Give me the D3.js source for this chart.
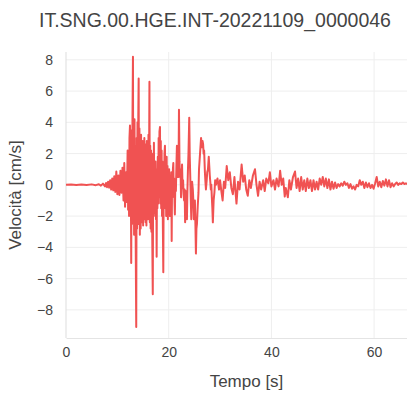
<!DOCTYPE html>
<html>
<head>
<meta charset="utf-8">
<script src="https://cdn.jsdelivr.net/npm/d3@7"></script>
<style>
  body { margin: 0; background: #fff; overflow: hidden; }
  text { font-family: "Liberation Sans", Arial, sans-serif; fill: #444; }
</style>
</head>
<body>
<div id="chart"></div>
<script>
// titolo e assi
var chartTitle = "IT.SNG.00.HGE.INT-20221109_0000046";
var xLabel = "Tempo [s]";
var yLabel = "Velocità [cm/s]";
var xTicks = [0, 20, 40, 60];
var yTicks = [-8, -6, -4, -2, 0, 2, 4, 6, 8];

// traccia letta a occhio, [tempo s, velocita cm/s]
var preEvent = [[0,0],[1,0.02],[2,-0.01],[3,0.02],[4,-0.01],[5,0.03],[5.8,-0.02],[6.4,0.04],[6.8,-0.05],[7.2,0.08],[7.6,-0.1]];

var onset = [[7.8,0.12],[8.0,-0.15],[8.2,0.2],[8.4,-0.18],[8.6,0.3],[8.8,-0.3],[9.0,0.4],[9.2,-0.35],[9.4,0.55],[9.6,-0.45],
  [9.8,0.85],[10.0,-0.6],[10.2,0.6],[10.4,-0.65],[10.6,0.9],[10.8,-0.5],[11.0,1.1],[11.2,-1.0],[11.35,1.4],[11.5,-1.4],
  [11.7,0.8],[11.85,-1.1],[12.0,2.2],[12.1,-1.6]];

var strongMotion = [[12.2,1.5],[12.28,-2.0],[12.36,3.0],[12.46,3.8],[12.52,-1.5],[12.6,2.5],[12.7,-5.0],[12.78,3.5],[12.86,-2.5],
  [12.94,4.0],[13.04,8.2],[13.1,-2.0],[13.18,3.8],[13.26,-3.2],[13.34,4.2],[13.42,-3.0],[13.5,2.5],[13.58,-4.0],[13.68,-9.1],
  [13.76,3.0],[13.84,-2.8],[13.92,4.0],[14.0,-2.5],[14.08,4.5],[14.15,6.8],[14.22,-2.5],[14.3,3.6],[14.38,-3.2],[14.46,3.0],
  [14.54,-2.8],[14.62,3.2],[14.7,-2.2],[14.78,2.6],[14.86,-2.4],[14.94,2.8],[15.02,-2.6],[15.1,2.4],[15.18,-2.2],[15.26,3.0],
  [15.34,-2.0],[15.42,2.6],[15.5,-2.4],[15.58,2.2],[15.66,-2.6],[15.74,2.8],[15.82,-2.0],[15.9,2.5],[15.98,-2.2],[16.06,3.2],
  [16.14,-1.5],[16.25,6.6],[16.32,-2.4],[16.4,2.5],[16.48,-2.8],[16.56,2.2],[16.64,-3.0],[16.72,2.0],[16.8,-3.5],[16.9,-7.0],
  [16.98,1.5],[17.06,-1.2],[17.12,2.7],[17.2,-1.8],[17.28,1.4],[17.36,-2.0],[17.44,1.5],[17.52,-2.2],[17.58,1.0],[17.65,-4.6],
  [17.72,0.8],[17.8,-1.5],[17.88,1.8],[17.96,-1.2],[18.04,3.0],[18.12,-0.8],[18.2,3.4],[18.3,3.7],[18.38,-1.2],[18.46,2.8],
  [18.54,-1.5],[18.62,2.2],[18.7,-2.0],[18.78,1.5],[18.86,-2.5],[18.95,-5.6],[19.03,0.5],[19.1,-1.0],[19.18,2.0],[19.27,2.5],
  [19.35,-1.5],[19.43,1.6],[19.51,-2.0],[19.6,1.8],[19.68,-1.2],[19.76,1.2],[19.84,-2.2],[19.92,0.8],[20.0,-1.5],[20.08,1.0],
  [20.16,-1.2],[20.25,-2.0],[20.33,0.6],[20.41,-1.0],[20.5,0.8],[20.58,-3.6],[20.66,0.5],[20.74,-0.8],[20.82,1.0],[20.9,1.4],
  [20.98,-0.6],[21.06,0.4],[21.14,-1.2],[21.2,-1.9],[21.3,0.3],[21.4,-0.4],[21.5,1.2],[21.6,2.5],[21.7,0.5],[21.8,1.5],
  [21.9,0.5],[22.0,4.8],[22.1,1.5],[22.2,0.5],[22.3,1.0],[22.4,-0.8],[22.5,0.2],[22.6,1.3],[22.7,-0.2],[22.8,0.3],[22.9,-0.6],
  [23.0,-1.0],[23.1,-0.3],[23.2,-2.4],[23.3,-0.4],[23.4,-0.8],[23.55,-2.2],[23.65,-0.3],[23.75,1.0],[23.85,2.0],[24.0,4.3],
  [24.1,1.8],[24.2,0.5],[24.3,-1.0],[24.4,-2.2],[24.55,0.2],[24.7,-0.3],[24.8,-1.0],[24.9,-2.2],[25.0,-1.2],[25.1,-1.0],
  [25.2,-2.5],[25.3,-4.4],[25.4,-2.8],[25.5,-2.5],[25.65,-1.4],[25.8,-0.5],[25.9,1.0],[26.1,2.0],[26.3,3.0],[26.4,2.6],
  [26.5,2.4],[26.6,2.8],[26.7,2.6],[26.8,2.0],[26.9,2.2],[27.05,0.8],[27.15,0.2],[27.25,-0.3],[27.4,0.3],[27.5,0.8],
  [27.65,1.0],[27.8,1.8],[27.9,1.2],[28.0,0.6],[28.1,0.2],[28.2,-0.3],[28.3,0.0],[28.4,-0.8],[28.5,-1.5],[28.6,-2.4],
  [28.75,-1.0],[28.9,-0.5],[29.05,0.3],[29.2,0.0]];

var coda = [[29.5,0.4],[29.8,-0.3],[30.0,0.3],[30.25,-0.4],[30.5,-1.0],[30.75,0.2],[31.0,-0.2],[31.3,1.2],[31.6,0.3],[31.9,0.8],
  [32.2,-0.2],[32.5,-0.6],[32.8,0.5],[33.0,-0.4],[33.2,-1.2],[33.5,0.2],[33.8,-0.3],[34.2,1.3],[34.5,0.2],[34.8,0.6],
  [35.1,-0.3],[35.4,-0.7],[35.7,0.3],[36.0,-0.2],[36.4,0.6],[36.8,1.0],[37.1,0.0],[37.4,-0.7],[37.7,0.2],[38.0,-0.3],
  [38.4,0.3],[38.7,-0.4],[39.0,0.4],[39.4,0.1],[39.7,0.8],[40.0,-0.1],[40.4,0.3],[40.7,-0.3],[41.0,0.4],[41.4,-0.1],
  [41.7,0.9],[42.0,0.0],[42.3,0.4],[42.6,-0.75],[42.8,-0.2],[43.0,-0.5],[43.2,-0.8],[43.5,0.3],[43.8,-0.3],[44.2,0.5],
  [44.6,0.85],[44.9,-0.2],[45.2,0.4],[45.5,-0.4],[45.8,0.5],[46.1,-0.3],[46.4,0.3],[46.7,-0.4],[47.0,0.4],[47.3,-0.2],
  [47.6,0.3],[47.9,-0.4],[48.2,0.3],[48.5,-0.3],[48.8,0.2],[49.1,-0.3],[49.4,0.4],[49.7,0.0],[50.0,0.5],[50.3,-0.1],
  [50.6,0.4],[50.9,-0.2],[51.2,0.35],[51.5,-0.3],[51.8,0.2],[52.1,-0.25],[52.4,0.15],[52.7,-0.2],[53.0,0.05],[53.3,-0.1],
  [53.6,0.1],[53.9,-0.05],[54.2,0.2],[54.5,0.0],[54.8,0.1],[55.1,-0.2],[55.4,0.05],[55.7,-0.25],[56.0,-0.1],[56.3,-0.3],
  [56.6,0.0],[56.9,-0.1],[57.2,0.3],[57.5,0.0],[57.8,0.2],[58.1,-0.2],[58.4,0.15],[58.7,-0.15],[59.0,0.1],[59.3,-0.2],
  [59.6,0.0],[59.9,-0.25],[60.2,0.1],[60.5,0.5],[60.8,-0.1],[61.1,0.2],[61.4,-0.15],[61.7,0.25],[62.0,-0.05],[62.3,0.35],
  [62.6,-0.1],[62.9,0.3],[63.2,-0.15],[63.5,0.1],[63.8,-0.1],[64.1,0.05],[64.4,0.15],[64.7,0.0],[65.0,0.1],[65.3,0.05],
  [65.6,0.15],[65.9,0.05],[66.2,0.1],[66.5,0.05],[66.8,0.1],[67.2,0.0]];

var width = 407, height = 393;
// il grafico originale era piu largo, tagliato a destra
var plotL = 66, plotR = 427, plotT = 52, plotB = 338;

var svg = d3.select("#chart").append("svg")
    .attr("width", width)
    .attr("height", height);

var x = d3.scaleLinear().domain([0, 70.3]).range([plotL, plotR]);
var y = d3.scaleLinear().domain([-9.8, 8.5]).range([plotB, plotT]);

// griglia
svg.append("g").selectAll("line")
    .data(yTicks)
    .join("line")
    .attr("x1", plotL).attr("x2", plotR)
    .attr("y1", d => y(d)).attr("y2", d => y(d))
    .attr("stroke", "#eee");

svg.append("g").selectAll("line")
    .data(xTicks)
    .join("line")
    .attr("x1", d => x(d)).attr("x2", d => x(d))
    .attr("y1", plotT).attr("y2", plotB)
    .attr("stroke", d => d === 0 ? "#ddd" : "#eee");

// asse x in basso
const xAxis = svg.append("g")
    .attr("transform", `translate(0,${plotB})`)
    .call(d3.axisBottom(x).tickValues(xTicks).tickSize(0).tickPadding(9));
xAxis.select(".domain").attr("stroke", "#e4e4e4");
xAxis.selectAll("text").style("font-size", "14px").style("fill", "#444");

const yAxis = svg.append("g")
    .attr("transform", `translate(${plotL},0)`)
    .call(d3.axisLeft(y).tickValues(yTicks).tickSize(0).tickPadding(13));
yAxis.select(".domain").remove();
yAxis.selectAll("text").style("font-size", "14px").style("fill", "#444");

// traccia
svg.append("clipPath").attr("id", "clip")
    .append("rect")
    .attr("x", plotL).attr("y", plotT)
    .attr("width", plotR - plotL).attr("height", plotB - plotT);

var trace = preEvent.concat(onset, strongMotion, coda);

const line = d3.line()
    .x(d => x(d[0]))
    .y(d => y(d[1]));

svg.append("path")
    .datum(trace)
    .attr("clip-path", "url(#clip)")
    .attr("fill", "none")
    .attr("stroke", "#f05252")
    .attr("stroke-width", 2)
    .attr("stroke-linejoin", "round")
    .attr("d", line);

// testi
svg.append("text")
    .attr("x", 215).attr("y", 27)
    .attr("text-anchor", "middle")
    .style("font-size", "19.5px")
    .text(chartTitle);

svg.append("text")
    .attr("x", (plotL + plotR) / 2).attr("y", 387)
    .attr("text-anchor", "middle")
    .style("font-size", "17px")
    .text(xLabel);

svg.append("text")
    .attr("transform", `translate(21,${(plotT + plotB) / 2}) rotate(-90)`)
    .attr("text-anchor", "middle")
    .style("font-size", "17px")
    .text(yLabel);
</script>
</body>
</html>
